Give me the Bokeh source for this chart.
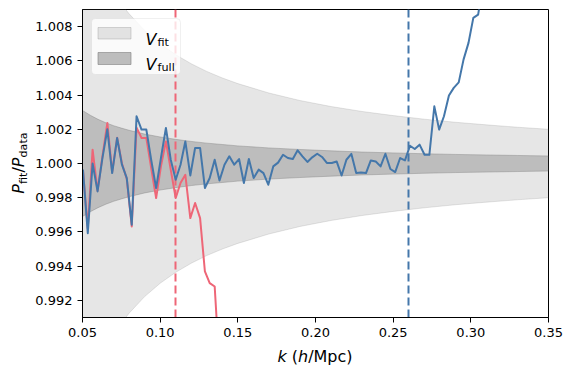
from bokeh.plotting import figure
from bokeh.models import Range1d, FixedTicker, Label, BoxAnnotation, Div
from bokeh.layouts import row, column
from bokeh.embed import file_html
from bokeh.resources import INLINE

# ---------------- data ----------------
k_bins = [0.0503, 0.0534, 0.0565, 0.0597, 0.0628, 0.0660, 0.0691, 0.0723, 0.0754, 0.0785,
          0.0817, 0.0848, 0.0880, 0.0911, 0.0942, 0.0974, 0.1005, 0.1037, 0.1068, 0.1100,
          0.1131, 0.1162, 0.1194, 0.1225, 0.1257, 0.1288, 0.1319, 0.1351, 0.1382, 0.1414,
          0.1445, 0.1477, 0.1508, 0.1539, 0.1571, 0.1602, 0.1634, 0.1665, 0.1696, 0.1728,
          0.1759, 0.1791, 0.1822, 0.1854, 0.1885, 0.1916, 0.1948, 0.1979, 0.2011, 0.2042,
          0.2073, 0.2105, 0.2136, 0.2168, 0.2199, 0.2231, 0.2262, 0.2293, 0.2325, 0.2356,
          0.2388, 0.2419, 0.2450, 0.2482, 0.2513, 0.2545, 0.2576, 0.2608, 0.2639, 0.2670,
          0.2702, 0.2733, 0.2765, 0.2796, 0.2827, 0.2859, 0.2890, 0.2922, 0.2953, 0.2985,
          0.3016, 0.3047, 0.3079, 0.3110]

ratio_full = [0.99964, 0.99593, 1.00000, 0.99837, 1.00030, 1.00200, 0.99944, 1.00149, 0.99993, 0.99915,
              0.99642, 1.00276, 1.00198, 1.00198, 1.00022, 0.99857, 1.00032, 1.00208, 1.00022, 0.99905,
              0.99993, 1.00129, 0.99930, 1.00091, 1.00091, 0.99857, 0.99915, 1.00022, 0.99901, 0.99993,
              1.00042, 0.99993, 1.00026, 0.99886, 1.00026, 0.99915, 0.99964, 0.99944, 0.99876, 0.99983,
              1.00005, 1.00051, 1.00032, 1.00026, 1.00077, 1.00042, 1.00009, 1.00036, 1.00057, 1.00038,
              1.00003, 1.00003, 1.00012, 0.99930, 1.00022, 1.00056, 0.99944, 0.99948, 0.99944, 1.00018,
              1.00012, 0.99983, 1.00057, 0.99968, 0.99950, 1.00032, 1.00018, 1.00104, 1.00085, 1.00110,
              1.00051, 1.00051, 1.00334, 1.00198, 1.00276, 1.00397, 1.00442, 1.00474, 1.00607, 1.00705,
              1.00851, 1.00870, 1.01050, 1.01150]

ratio_fit = [0.99960, 0.99620, 1.00081, 0.99840, 1.00040, 1.00237, 0.99950, 1.00150, 1.00000, 0.99910,
             0.99632, 1.00210, 1.00149, 1.00149, 0.99974, 0.99798, 0.99983, 1.00129, 0.99964, 0.99798,
             0.99886, 0.99934, 0.99681, 0.99769, 0.99681, 0.99369, 0.99301, 0.99281, 0.98806]

band_k = [0.050, 0.055, 0.060, 0.065, 0.070, 0.075, 0.080, 0.090, 0.100, 0.110, 0.120, 0.130,
          0.140, 0.150, 0.170, 0.190, 0.210, 0.230, 0.250, 0.270, 0.290, 0.310, 0.330, 0.350]
half_fit = [0.01400, 0.01273, 0.01167, 0.01077, 0.01000, 0.00933, 0.00875, 0.00778, 0.00700, 0.00636,
            0.00583, 0.00538, 0.00500, 0.00467, 0.00412, 0.00368, 0.00333, 0.00304, 0.00280, 0.00259,
            0.00241, 0.00226, 0.00212, 0.00200]
half_full = [0.00310, 0.00282, 0.00258, 0.00238, 0.00221, 0.00207, 0.00194, 0.00172, 0.00155, 0.00141,
             0.00129, 0.00119, 0.00111, 0.00103, 0.00091, 0.00082, 0.00074, 0.00067, 0.00062, 0.00057,
             0.00053, 0.00050, 0.00047, 0.00044]

k_fit_max = 0.11
k_full_max = 0.26

x_ticks = [0.05, 0.10, 0.15, 0.20, 0.25, 0.30, 0.35]
x_tick_labels = ["0.05", "0.10", "0.15", "0.20", "0.25", "0.30", "0.35"]
y_ticks = [0.992, 0.994, 0.996, 0.998, 1.000, 1.002, 1.004, 1.006, 1.008]
y_tick_labels = ["0.992", "0.994", "0.996", "0.998", "1.000", "1.002", "1.004", "1.006", "1.008"]

BLUE = "#4477AA"
RED = "#EE6677"
FONT = "DejaVu Sans"

# ---------------- geometry (page pixels) ----------------
YW = 32                 # width of the y-label column
ML, MR, MT, MB = 50, 16, 9, 28
FIG_W, FIG_H = 532, 345
FL = YW + ML            # frame left in page px (82)
FB = FIG_H - MB         # frame bottom in page px (317)
FR = YW + FIG_W - MR    # frame right (548)

p = figure(width=FIG_W, height=FIG_H, output_backend="svg", toolbar_location=None,
           x_range=Range1d(0.05, 0.35), y_range=Range1d(0.991, 1.009),
           min_border_left=ML, min_border_right=MR, min_border_top=MT,
           min_border_bottom=MB, margin=0)
p.background_fill_color = "white"
p.border_fill_color = "white"
p.outline_line_color = "black"
p.outline_line_width = 1
p.outline_line_alpha = 1
p.grid.visible = False

lo_fit = [1 - h for h in half_fit]
hi_fit = [1 + h for h in half_fit]
lo_full = [1 - h for h in half_full]
hi_full = [1 + h for h in half_full]

p.varea(x=band_k, y1=lo_fit, y2=hi_fit, fill_color="grey", fill_alpha=0.2)
p.line(band_k, hi_fit, line_color="grey", line_alpha=0.2, line_width=1)
p.line(band_k, lo_fit, line_color="grey", line_alpha=0.2, line_width=1)
p.varea(x=band_k, y1=lo_full, y2=hi_full, fill_color="grey", fill_alpha=0.4)
p.line(band_k, hi_full, line_color="grey", line_alpha=0.4, line_width=1)
p.line(band_k, lo_full, line_color="grey", line_alpha=0.4, line_width=1)

p.vspan(x=[k_fit_max], line_color=RED, line_width=2, line_dash="8 4")
p.vspan(x=[k_full_max], line_color=BLUE, line_width=2, line_dash="8 4")

p.line(k_bins[:len(ratio_fit)], ratio_fit, line_color=RED, line_width=2, line_join="round")
p.line(k_bins, ratio_full, line_color=BLUE, line_width=2, line_join="round")

for ax, ticks, labels in ((p.xaxis, x_ticks, x_tick_labels), (p.yaxis, y_ticks, y_tick_labels)):
    ax.ticker = FixedTicker(ticks=ticks)
    ax.major_label_overrides = dict(zip(ticks, labels))
    ax.minor_tick_line_color = None
    ax.major_tick_in = 0
    ax.major_tick_out = 5
    ax.major_tick_line_color = "black"
    ax.major_tick_line_width = 1
    ax.axis_line_color = "black"
    ax.axis_line_width = 1
    ax.major_label_text_font = FONT
    ax.major_label_text_font_size = "13px"
    ax.major_label_text_color = "black"
    ax.major_label_standoff = 5


# ---------------- legend (frame-relative screen units) ----------------
def lab(text, px, py, size, italic=False):
    p.add_layout(Label(x=px - FL, y=FB - py, x_units="screen", y_units="screen",
                       text=text, text_font=FONT, text_font_size=f"{size}px",
                       text_font_style="italic" if italic else "normal",
                       text_color="black", text_align="left", text_baseline="alphabetic"))


def box(l, r, t, b, **kw):
    p.add_layout(BoxAnnotation(left=l - FL, right=r - FL, top=FB - t, bottom=FB - b,
                               left_units="screen", right_units="screen",
                               top_units="screen", bottom_units="screen", **kw))


box(91, 180, 18, 74, fill_color="white", fill_alpha=0.8, line_color="#cccccc",
    line_width=1, border_radius=4)
box(97.5, 130.5, 27, 38.5, fill_color="grey", fill_alpha=0.2, line_color="grey", line_alpha=0.3, line_width=1)
box(97.5, 130.5, 52, 64, fill_color="grey", fill_alpha=0.5, line_color="grey", line_alpha=0.6, line_width=1)
lab("V", 145, 39.3, 16, italic=True)
lab("fit", 157, 42, 11.2)
lab("V", 145, 64.3, 16, italic=True)
lab("full", 157, 67, 11.2)

# ---------------- axis labels (HTML text) ----------------
TXT = "font-family:'DejaVu Sans';font-size:16px;line-height:1;color:black;white-space:nowrap;"
SUB = "font-size:11.2px;position:relative;top:3px;"
fcy = (9 + FB) / 2          # vertical centre of the frame
fcx = (FL + FR) / 2         # horizontal centre of the frame

ylab_html = (f'<div style="position:relative;width:{YW}px;height:{FIG_H}px;">'
             f'<div style="position:absolute;left:18.5px;top:{fcy}px;'
             f'transform:translate(-50%,-50%) rotate(-90deg);{TXT}">'
             f'<i>P</i><span style="{SUB}">fit</span>/<i>P</i><span style="{SUB}">data</span>'
             f'</div></div>')
xlab_html = (f'<div style="position:relative;width:{YW + FIG_W}px;height:30px;">'
             f'<div style="position:absolute;left:{fcx}px;top:3.5px;transform:translateX(-50%);{TXT}">'
             f'<i>k</i> (<i>h</i>/Mpc)</div></div>')

ylab = Div(text=ylab_html, width=YW, height=FIG_H, margin=0)
xlab = Div(text=xlab_html, width=YW + FIG_W, height=30, margin=0)

layout = column(row(ylab, p, spacing=0), xlab, spacing=0)

open("out.html", "w").write(file_html(layout, INLINE))
